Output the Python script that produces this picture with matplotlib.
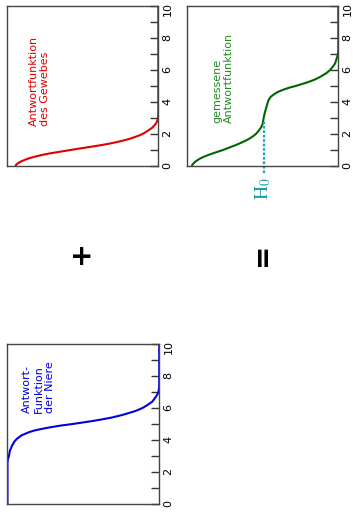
import matplotlib
matplotlib.use("Agg")
import matplotlib.pyplot as plt

# x position (0..10) and response value (0..1)
red_x = [0.0, 0.1, 0.2, 0.3, 0.4, 0.5, 0.6, 0.7, 0.8, 0.9, 1.0, 1.1, 1.2, 1.3, 1.4,
         1.5, 1.6, 1.7, 1.8, 1.9, 2.0, 2.2, 2.4, 2.6, 2.8, 3.0, 3.3, 10.0]
red_y = [0.95, 0.945, 0.93, 0.91, 0.885, 0.855, 0.815, 0.77, 0.715, 0.65, 0.585, 0.52,
         0.45, 0.385, 0.325, 0.275, 0.23, 0.19, 0.16, 0.13, 0.105, 0.07, 0.04, 0.02,
         0.008, 0.002, 0.0, 0.0]

green_x = [0.0, 0.1, 0.2, 0.3, 0.4, 0.5, 0.6, 0.7, 0.8, 0.9, 1.0, 1.1, 1.2, 1.3, 1.4,
           1.5, 1.6, 1.7, 1.8, 1.9, 2.0, 2.2, 2.4, 2.6, 2.8, 3.0, 3.3, 3.6, 3.9, 4.1,
           4.3, 4.4, 4.5, 4.6, 4.7, 4.8, 4.9, 5.0, 5.1, 5.2, 5.3, 5.4, 5.5, 5.6, 5.7,
           5.8, 6.0, 6.2, 6.4, 6.6, 6.8, 7.0, 7.3, 10.0]
green_y = [0.975, 0.97, 0.96, 0.948, 0.932, 0.913, 0.89, 0.862, 0.832, 0.8, 0.768, 0.74,
           0.713, 0.685, 0.66, 0.636, 0.614, 0.594, 0.577, 0.562, 0.549, 0.53, 0.515,
           0.505, 0.5, 0.497, 0.49, 0.481, 0.472, 0.465, 0.452, 0.44, 0.425, 0.408,
           0.385, 0.357, 0.325, 0.285, 0.25, 0.215, 0.185, 0.158, 0.135, 0.115, 0.098,
           0.08, 0.055, 0.037, 0.022, 0.015, 0.008, 0.002, 0.0, 0.0]

blue_x = [0.0, 2.6, 2.8, 3.0, 3.3, 3.6, 3.9, 4.1, 4.3, 4.5, 4.6, 4.7, 4.8, 4.9, 5.0,
          5.1, 5.2, 5.3, 5.4, 5.5, 5.6, 5.7, 5.8, 6.0, 6.2, 6.4, 6.6, 6.8, 7.0, 7.3, 10.0]
blue_y = [1.0, 1.0, 0.997, 0.99, 0.985, 0.972, 0.955, 0.935, 0.905, 0.855, 0.82, 0.77,
          0.715, 0.65, 0.57, 0.50, 0.43, 0.37, 0.315, 0.27, 0.23, 0.195, 0.16, 0.11,
          0.075, 0.045, 0.03, 0.015, 0.005, 0.0, 0.0]

h0_level = 0.497
h0_x = [-0.45, 2.75]

fig = plt.figure(figsize=(3.53, 5.14), dpi=100)


def setup(ax):
    # plot is turned on its side: x runs upwards, value runs to the left
    ax.set_ylim(0, 10)
    ax.set_xlim(1.005, 0)
    ax.set_xticks([])
    ax.yaxis.tick_right()
    ax.set_yticks(range(0, 11, 2))
    ax.set_yticks(range(0, 11), minor=True)
    ax.tick_params(axis="y", which="both", direction="in", length=6, width=1,
                   color="#333333", labelsize=8, pad=3, labelrotation=90)
    for s in ax.spines.values():
        s.set_color("#444444")
        s.set_linewidth(1)


ax_red = fig.add_axes([0.0207, 0.677, 0.4278, 0.3113])
setup(ax_red)
ax_red.plot(red_y, red_x, color="#e00000", lw=1.5)
ax_red.text(0.213, 2.5, "Antwortfunktion\ndes Gewebes", color="#e00000",
            fontsize=8, rotation=90, ha="center", va="bottom",
            multialignment="left", transform=ax_red.get_yaxis_transform())

ax_green = fig.add_axes([0.5306, 0.677, 0.4278, 0.3113])
setup(ax_green)
ax_green.plot(green_y, green_x, color="#006400", lw=1.5)
ax_green.plot([h0_level, h0_level], h0_x, color="#1aa8b8", lw=1.6,
              linestyle=(0, (1.2, 0.8)), clip_on=False)
ax_green.text(0.24, 2.7, "gemessene\nAntwortfunktion", color="#1e8c1e",
              fontsize=8, rotation=90, ha="center", va="bottom",
              multialignment="left", transform=ax_green.get_yaxis_transform())
ax_green.text(h0_level, -0.7, r"$\mathrm{H}_0$", color="#1a9e9e", fontsize=14,
              rotation=90, ha="center", va="top", math_fontfamily="stix")

ax_blue = fig.add_axes([0.019, 0.01946, 0.432, 0.3113])
setup(ax_blue)
ax_blue.plot(blue_y, blue_x, color="#0000dd", lw=1.5)
ax_blue.text(0.21, 5.67, "Antwort-\nFunktion\nder Niere", color="#0000dd",
             fontsize=8, rotation=90, ha="center", va="bottom",
             multialignment="left", transform=ax_blue.get_yaxis_transform())

fig.text(82 / 353, 1 - 257 / 514, "+", fontsize=20, fontweight="bold",
         ha="center", va="center")
fig.text(262 / 353, 1 - 254 / 514, "=", fontsize=20, fontweight="bold",
         rotation=90, ha="center", va="center")

fig.savefig("out.png", dpi=100)
